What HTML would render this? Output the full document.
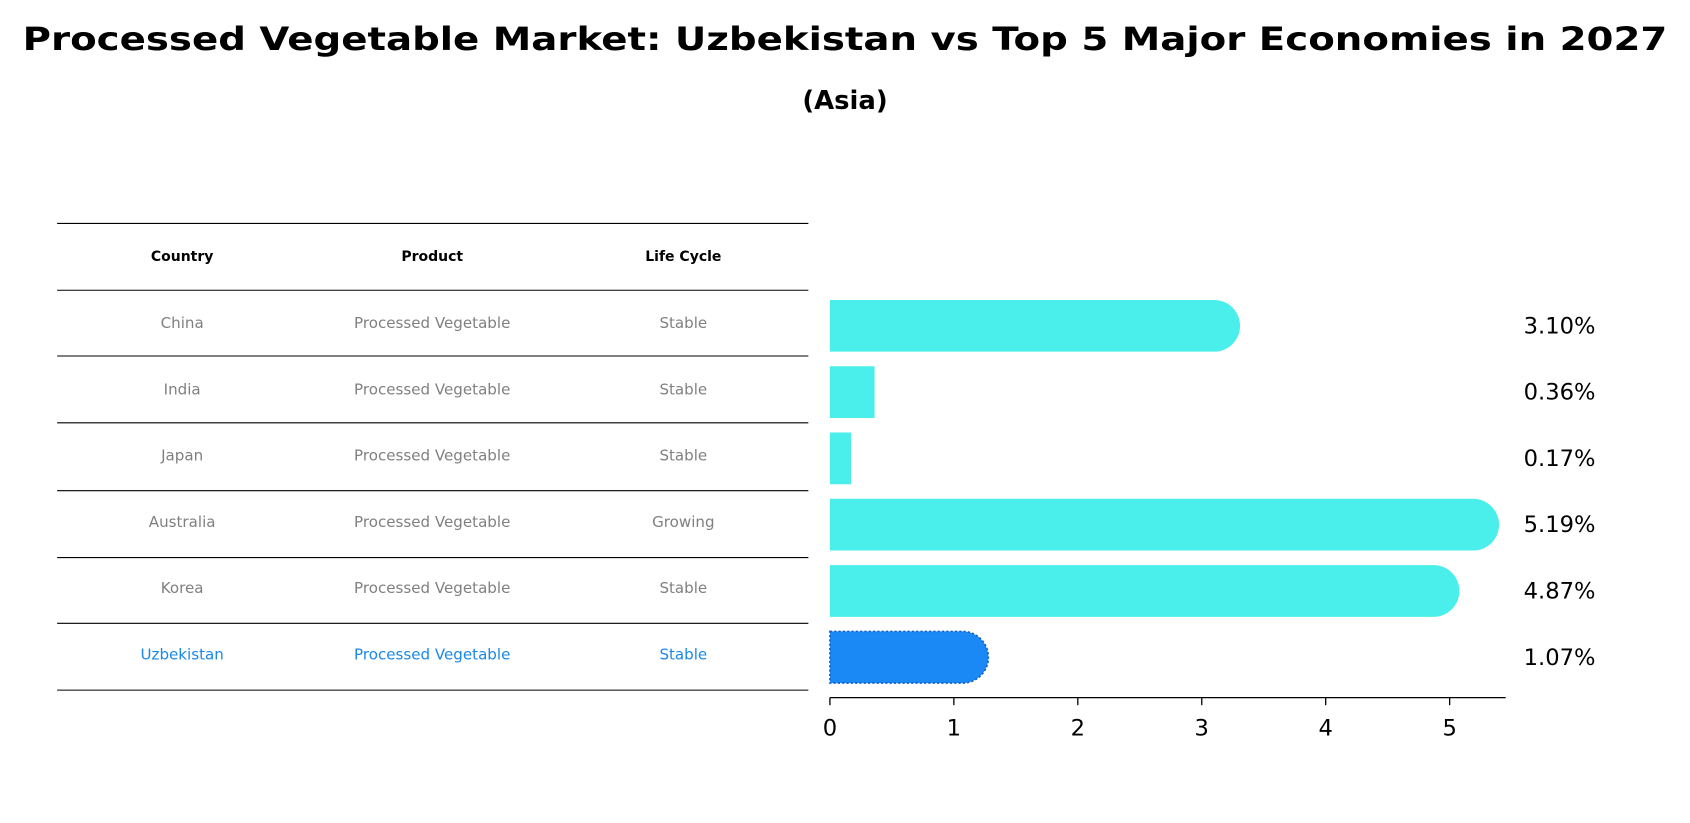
<!DOCTYPE html>
<html><head><meta charset="utf-8"><style>
html,body{margin:0;padding:0;background:#fff;}
svg{display:block;font-family:"DejaVu Sans","Liberation Sans",sans-serif;}
</style></head><body>
<svg id="chart" width="1690" height="823" viewBox="0 0 1568 763" xmlns="http://www.w3.org/2000/svg">
<text x="784" y="46" text-anchor="middle" font-size="30" font-weight="bold" textLength="1526" lengthAdjust="spacingAndGlyphs">Processed Vegetable Market: Uzbekistan vs Top 5 Major Economies in 2027</text>
<text x="784" y="101" text-anchor="middle" font-size="24" font-weight="bold">(Asia)</text>
<g id="table"></g>
<g id="bars"></g>
</svg>
<script>
const countries=["China","India","Japan","Australia","Korea","Uzbekistan"];
const products=["Processed Vegetable","Processed Vegetable","Processed Vegetable","Processed Vegetable","Processed Vegetable","Processed Vegetable"];
const lifeCycles=["Stable","Stable","Stable","Growing","Stable","Stable"];
const values=[3.10,0.36,0.17,5.19,4.87,1.07];
const tickValues=[0,1,2,3,4,5];
const NS="http://www.w3.org/2000/svg";
function mk(tag,attrs,parent,text){const e=document.createElementNS(NS,tag);for(const k in attrs)e.setAttribute(k,attrs[k]);if(text!==undefined)e.textContent=text;parent.appendChild(e);return e;}
const x0=770,pxPerUnit=115;
const xs=v=>x0+v*pxPerUnit;
const rowY=i=>300+i*61.5;
const table=document.getElementById('table');
const lineYs=[207,269,330,392,455,517,578,640];
lineYs.forEach(y=>{const l=mk('line',{x1:53,x2:750,y1:y,y2:y,stroke:'#000','stroke-width':1},table);

});
const cols=[169,401,634];
["Country","Product","Life Cycle"].forEach((h,j)=>{const t=mk('text',{x:cols[j],y:242,'text-anchor':'middle','font-size':13,'font-weight':'bold'},table,h);

});
countries.forEach((c,i)=>{const y=rowY(i)+4;const col=i===5?'#1a88e8':'#808080';
[c,products[i],lifeCycles[i]].forEach((s,j)=>{const t=mk('text',{x:cols[j],y:y,'text-anchor':'middle','font-size':14,fill:col},table,s);

});});
const bars=document.getElementById('bars');
const bh=48;
values.forEach((v,i)=>{const cy=rowY(i)+2,top=cy-bh/2,xe=xs(v);const hl=i===5;const fill=hl?'#1a88f5':'#4aeeea';
const g=mk('g',{},bars);


let d;
if(v>1){d=`M${x0},${top} H${xe} A${bh/2},${bh/2} 0 0 1 ${xe},${top+bh} H${x0} Z`;}
else{d=`M${x0},${top} H${xe} V${top+bh} H${x0} Z`;}
const p=mk('path',{d:d,fill:fill},g);
if(hl){p.setAttribute('stroke','#1560c8');p.setAttribute('stroke-width','1.5');p.setAttribute('stroke-dasharray','2,2');}
const t=mk('text',{x:1447,y:cy+7,'text-anchor':'middle','font-size':21},bars,v.toFixed(2)+'%');

});
const ax=mk('line',{x1:x0,x2:1397,y1:647,y2:647,stroke:'#000','stroke-width':1.2},bars);


tickValues.forEach(v=>{const tk=mk('line',{x1:xs(v),x2:xs(v),y1:647,y2:654,stroke:'#000','stroke-width':1.2},bars);


const t=mk('text',{x:xs(v),y:682,'text-anchor':'middle','font-size':21},bars,String(v));

});
</script>
</body></html>
